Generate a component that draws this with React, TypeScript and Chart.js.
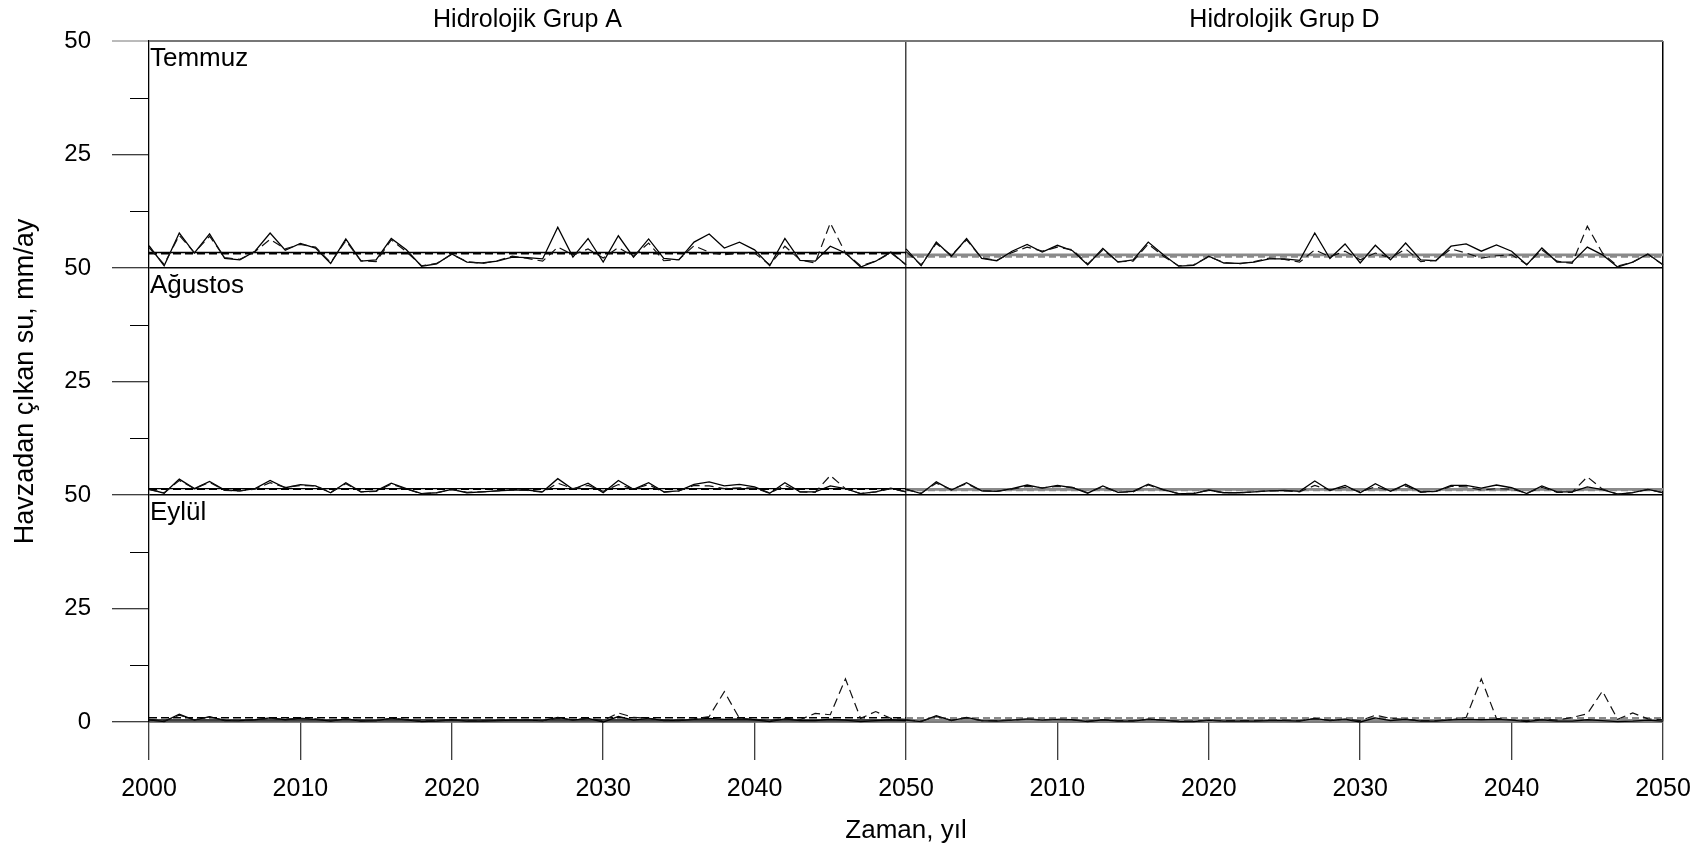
import React, { useEffect, useRef } from 'react';
import { Chart, registerables } from 'chart.js';
Chart.register(...registerables);

// ---------- data ----------
const years: number[] = Array.from({ length: 51 }, (_, i) => 2000 + i);
const groupTitles = ['Hidrolojik Grup A', 'Hidrolojik Grup D'];
const monthNames = ['Temmuz', 'Ağustos', 'Eylül'];
const yTickText: Record<number, string> = { 0: '0', 25: '25', 50: '50', 75: '25', 100: '50', 125: '25', 150: '50' };
const xTickYears = [2000, 2010, 2020, 2030, 2040, 2050];

// Temmuz
const tempASolid = [4.9, 0.5, 7.7, 3.3, 7.5, 2.1, 1.8, 3.7, 7.7, 3.9, 5.4, 4.4, 1.0, 6.4, 1.5, 1.8, 6.5, 4.0, 0.4, 0.9, 3.1, 1.3, 1.1, 1.5, 2.4, 2.3, 2.0, 9.0, 2.4, 6.5, 1.3, 7.1, 2.4, 6.4, 2.1, 1.8, 5.7, 7.5, 4.4, 5.7, 4.0, 0.5, 6.5, 1.7, 1.5, 4.8, 3.3, 0.2, 1.5, 3.5, 0.7];
const tempADashed = [4.5, 0.8, 7.2, 3.4, 7.0, 2.3, 1.9, 3.6, 6.3, 4.2, 5.2, 4.6, 1.2, 6.0, 1.6, 1.4, 6.2, 3.6, 0.5, 1.0, 3.0, 1.4, 1.0, 1.6, 2.6, 2.1, 1.5, 4.6, 2.9, 4.2, 2.2, 4.5, 2.6, 5.5, 1.6, 1.9, 4.9, 3.5, 2.9, 3.3, 3.3, 0.7, 4.8, 1.8, 1.1, 9.9, 3.3, 0.5, 1.5, 3.3, 0.7];
const tempDSolid = [4.2, 0.5, 5.7, 2.6, 6.5, 2.1, 1.6, 3.7, 5.2, 3.5, 5.0, 3.8, 0.7, 4.3, 1.3, 1.8, 5.7, 2.9, 0.4, 0.6, 2.6, 1.1, 1.0, 1.3, 2.0, 2.0, 1.7, 7.7, 2.1, 5.3, 1.1, 5.0, 1.8, 5.5, 1.8, 1.6, 4.8, 5.3, 3.7, 5.1, 3.7, 0.7, 4.4, 1.3, 1.3, 4.6, 2.9, 0.2, 1.3, 3.1, 0.7];
const tempDDashed = [3.6, 0.7, 5.4, 2.8, 6.2, 2.2, 1.7, 3.4, 4.6, 3.7, 4.6, 4.0, 0.9, 4.0, 1.4, 1.5, 5.3, 2.6, 0.5, 0.7, 2.5, 1.2, 0.9, 1.4, 2.2, 1.9, 1.3, 4.0, 2.5, 3.7, 1.8, 3.3, 2.2, 4.2, 1.4, 1.7, 4.2, 3.3, 2.2, 2.7, 2.9, 0.8, 4.0, 1.5, 1.0, 9.2, 3.3, 0.4, 1.3, 3.0, 0.7];

// Ağustos
const augASolid = [1.3, 0.4, 3.5, 1.4, 3.0, 1.1, 0.9, 1.4, 3.2, 1.6, 2.3, 2.0, 0.5, 2.7, 0.7, 0.9, 2.6, 1.4, 0.3, 0.5, 1.25, 0.5, 0.7, 0.9, 1.1, 1.1, 0.7, 3.6, 1.25, 2.6, 0.5, 3.2, 1.25, 2.7, 0.7, 0.9, 2.35, 2.9, 2.0, 2.35, 1.8, 0.4, 2.7, 0.7, 0.7, 2.0, 1.4, 0.3, 0.7, 1.5, 0.7];
const augADashed = [1.2, 0.5, 3.2, 1.4, 2.8, 1.0, 0.9, 1.3, 2.7, 1.7, 2.1, 2.0, 0.6, 2.5, 0.7, 0.8, 2.4, 1.3, 0.3, 0.5, 1.2, 0.6, 0.7, 0.9, 1.1, 1.0, 0.6, 2.6, 1.4, 2.1, 0.8, 2.3, 1.3, 2.3, 0.6, 0.9, 2.1, 2.0, 1.4, 1.6, 1.5, 0.4, 2.1, 0.7, 0.6, 4.3, 1.4, 0.3, 0.7, 1.4, 0.7];
const augDSolid = [1.3, 0.3, 2.9, 1.1, 2.7, 0.9, 0.8, 1.4, 2.2, 1.5, 2.1, 1.6, 0.4, 2.0, 0.6, 0.8, 2.4, 1.2, 0.3, 0.3, 1.1, 0.5, 0.5, 0.7, 0.9, 1.0, 0.8, 3.1, 1.0, 2.1, 0.5, 2.5, 0.8, 2.35, 0.7, 0.8, 2.1, 2.1, 1.5, 2.2, 1.6, 0.3, 2.0, 0.7, 0.7, 1.8, 1.2, 0.2, 0.5, 1.25, 0.5];
const augDDashed = [1.2, 0.4, 2.6, 1.2, 2.5, 0.9, 0.8, 1.3, 1.9, 1.6, 1.9, 1.7, 0.5, 1.8, 0.6, 0.7, 2.2, 1.1, 0.3, 0.4, 1.0, 0.5, 0.5, 0.7, 0.9, 0.9, 0.7, 2.1, 1.1, 1.7, 0.7, 1.8, 0.9, 2.0, 0.6, 0.8, 1.9, 1.8, 1.1, 1.4, 1.3, 0.4, 1.7, 0.6, 0.6, 4.0, 1.3, 0.2, 0.5, 1.2, 0.5];

// Eylül
const sepASolid = [0.5, 0.1, 1.7, 0.4, 1.2, 0.3, 0.3, 0.5, 0.9, 0.5, 0.8, 0.6, 0.2, 0.7, 0.2, 0.3, 0.8, 0.5, 0.1, 0.2, 0.5, 0.2, 0.2, 0.3, 0.4, 0.4, 0.3, 1.0, 0.4, 0.8, 0.0, 1.2, 0.4, 0.8, 0.3, 0.3, 0.6, 0.8, 0.6, 0.7, 0.5, 0.1, 0.7, 0.3, 0.3, 0.6, 0.4, 0.1, 0.3, 0.5, 0.3];
const sepADashed = [0.6, 0.2, 1.5, 0.5, 1.1, 0.4, 0.3, 0.5, 0.8, 0.6, 0.8, 0.7, 0.3, 0.7, 0.3, 0.3, 0.8, 0.5, 0.2, 0.3, 0.5, 0.3, 0.3, 0.4, 0.5, 0.4, 0.3, 0.8, 0.5, 0.8, 0.3, 2.0, 1.0, 0.8, 0.4, 0.4, 0.7, 1.2, 6.7, 0.8, 0.6, 0.3, 0.8, 0.5, 1.9, 1.6, 9.5, 0.8, 2.3, 0.8, 0.6];
const sepDSolid = [0.4, 0.1, 1.4, 0.3, 1.0, 0.3, 0.2, 0.4, 0.7, 0.4, 0.6, 0.5, 0.1, 0.5, 0.2, 0.2, 0.6, 0.4, 0.1, 0.1, 0.4, 0.2, 0.2, 0.2, 0.3, 0.3, 0.2, 0.8, 0.3, 0.6, 0.0, 0.9, 0.3, 0.6, 0.2, 0.2, 0.5, 0.6, 0.5, 0.6, 0.4, 0.1, 0.5, 0.2, 0.2, 0.5, 0.3, 0.1, 0.2, 0.4, 0.2];
const sepDDashed = [0.5, 0.2, 1.2, 0.4, 0.9, 0.3, 0.3, 0.4, 0.6, 0.5, 0.6, 0.5, 0.2, 0.5, 0.3, 0.3, 0.6, 0.4, 0.2, 0.2, 0.4, 0.3, 0.3, 0.3, 0.4, 0.4, 0.3, 0.7, 0.4, 0.6, 0.3, 1.5, 0.8, 0.6, 0.3, 0.3, 0.5, 1.0, 9.5, 0.8, 0.5, 0.3, 0.6, 0.4, 1.0, 1.8, 6.8, 0.6, 2.0, 0.7, 0.5];

// long-term means (Temmuz, Ağustos, Eylül)
const meanSolidA = [3.4, 1.4, 0.45];
const meanDashedA = [3.15, 1.25, 0.95];
const meanSolidD = [2.9, 1.25, 0.35];
const meanDashedD = [2.55, 1.1, 0.8];

// ---------- helpers ----------
const FONT = '"Liberation Sans", Arial, sans-serif';
const PANEL_SPAN = 50; // each month block spans 50 units on the stacked y scale

type Panel = { group: number; month: number; solid: number[]; dashed: number[]; mS: number; mD: number };
const panels: Panel[] = [
  { group: 0, month: 0, solid: tempASolid, dashed: tempADashed, mS: meanSolidA[0], mD: meanDashedA[0] },
  { group: 0, month: 1, solid: augASolid, dashed: augADashed, mS: meanSolidA[1], mD: meanDashedA[1] },
  { group: 0, month: 2, solid: sepASolid, dashed: sepADashed, mS: meanSolidA[2], mD: meanDashedA[2] },
  { group: 1, month: 0, solid: tempDSolid, dashed: tempDDashed, mS: meanSolidD[0], mD: meanDashedD[0] },
  { group: 1, month: 1, solid: augDSolid, dashed: augDDashed, mS: meanSolidD[1], mD: meanDashedD[1] },
  { group: 1, month: 2, solid: sepDSolid, dashed: sepDDashed, mS: meanSolidD[2], mD: meanDashedD[2] },
];

function buildDatasets() {
  const meanSets: any[] = [];
  const lineSets: any[] = [];
  panels.forEach((p) => {
    const xs = p.group * 50;
    const ys = (2 - p.month) * PANEL_SPAN;
    const base = { pointRadius: 0, tension: 0, clip: false as any, fill: false };
    const meanColor = p.group === 0 ? '#000000' : '#8a8a8a';
    const meanWidth = p.group === 0 ? 1.4 : 2.6;
    meanSets.push({
      ...base,
      data: [{ x: years[0] + xs, y: p.mS + ys }, { x: years[years.length - 1] + xs, y: p.mS + ys }],
      borderColor: meanColor, borderWidth: meanWidth,
    });
    meanSets.push({
      ...base,
      data: [{ x: years[0] + xs, y: p.mD + ys }, { x: years[years.length - 1] + xs, y: p.mD + ys }],
      borderColor: meanColor, borderWidth: meanWidth, borderDash: p.group === 0 ? [8, 4] : [7, 4],
    });
    lineSets.push({
      ...base,
      data: years.map((yr, i) => ({ x: yr + xs, y: p.dashed[i] + ys })),
      borderColor: '#111111', borderWidth: 1.2, borderDash: [9, 5],
    });
    lineSets.push({
      ...base,
      data: years.map((yr, i) => ({ x: yr + xs, y: p.solid[i] + ys })),
      borderColor: '#000000', borderWidth: 1.3,
    });
  });
  return [...lineSets, ...meanSets];
}

const overlayPlugin = {
  id: 'overlay',
  afterDraw(chart: any) {
    const { ctx, chartArea: area } = chart;
    const xs = chart.scales.x;
    const ys = chart.scales.y;
    ctx.save();
    // minor ticks on y axis
    ctx.strokeStyle = '#000';
    ctx.lineWidth = 1;
    for (let v = 12.5; v < 150; v += 25) {
      const py = Math.round(ys.getPixelForValue(v)) + 0.5;
      ctx.beginPath();
      ctx.moveTo(area.left - 19, py);
      ctx.lineTo(area.left, py);
      ctx.stroke();
    }
    ctx.fillStyle = '#000';
    // group titles
    ctx.font = `25px ${FONT}`;
    ctx.textAlign = 'center';
    ctx.textBaseline = 'alphabetic';
    groupTitles.forEach((t, i) => {
      const cx = (xs.getPixelForValue(2000 + i * 50) + xs.getPixelForValue(2050 + i * 50)) / 2;
      ctx.fillText(t, cx, 27);
    });
    // month labels
    ctx.font = `26px ${FONT}`;
    ctx.textAlign = 'left';
    monthNames.forEach((m, i) => {
      ctx.fillText(m, area.left + 1, ys.getPixelForValue(150 - i * PANEL_SPAN) + 25);
    });
    ctx.restore();
  },
};

export default function App() {
  const ref = useRef<HTMLCanvasElement | null>(null);
  useEffect(() => {
    document.body.style.margin = '0';
    const canvas = ref.current;
    if (!canvas) return;
    const chart = new Chart(canvas, {
      type: 'line',
      data: { datasets: buildDatasets() },
      plugins: [overlayPlugin],
      options: {
        animation: false,
        responsive: false,
        devicePixelRatio: 1,
        events: [],
        layout: { padding: { top: 41, right: 45, bottom: 0, left: 0 } },
        plugins: { legend: { display: false }, tooltip: { enabled: false }, title: { display: false } },
        scales: {
          x: {
            type: 'linear',
            min: 2000,
            max: 2100,
            afterFit: (s: any) => { s.height = 128; },
            afterBuildTicks: (s: any) => {
              const t: any[] = [];
              xTickYears.forEach((y) => t.push({ value: y }));
              xTickYears.slice(1).forEach((y) => t.push({ value: y + 50 }));
              s.ticks = t;
            },
            ticks: {
              autoSkip: false,
              maxRotation: 0,
              padding: 14,
              color: '#000',
              font: { family: FONT, size: 25 },
              callback: (v: any) => String(v > 2050 ? v - 50 : v),
            },
            grid: {
              drawOnChartArea: true,
              drawTicks: true,
              tickLength: 38,
              tickColor: '#000',
              tickWidth: 1,
              lineWidth: 1.5,
              color: (c: any) => {
                const v = c.tick && c.tick.value;
                if (v === 2050) return '#444';
                if (v === 2100) return '#000';
                return 'rgba(0,0,0,0)';
              },
            },
            border: { display: true, color: '#555', width: 1.5 },
            title: {
              display: true,
              text: 'Zaman, yıl',
              color: '#000',
              font: { family: FONT, size: 26 },
              padding: { top: 0, bottom: 4 },
            },
          },
          y: {
            type: 'linear',
            min: 0,
            max: 150,
            afterFit: (s: any) => { s.width = 149; },
            ticks: {
              stepSize: 25,
              padding: 21,
              color: '#000',
              font: { family: FONT, size: 24 },
              callback: (v: any) => (yTickText[v as number] ?? ''),
            },
            grid: {
              drawOnChartArea: true,
              drawTicks: true,
              tickLength: 37,
              tickWidth: 1,
              tickColor: (c: any) => (c.tick && c.tick.value === 150 ? '#777' : '#000'),
              lineWidth: (c: any) => (c.tick && c.tick.value === 150 ? 2 : 1.5),
              color: (c: any) => {
                const v = c.tick && c.tick.value;
                if (v === 150) return '#777';
                if (v === 100 || v === 50) return '#000';
                if (v === 0) return '#555';
                return 'rgba(0,0,0,0)';
              },
            },
            border: { display: true, color: '#000', width: 1.3 },
            title: {
              display: true,
              text: 'Havzadan çıkan su, mm/ay',
              color: '#000',
              font: { family: FONT, size: 27 },
              padding: { top: 9, bottom: 0 },
            },
          },
        },
      } as any,
    });
    return () => chart.destroy();
  }, []);
  return (
    <div style={{ width: 1708, height: 850 }}>
      <canvas ref={ref} width={1708} height={850} style={{ display: 'block' }} />
    </div>
  );
}
